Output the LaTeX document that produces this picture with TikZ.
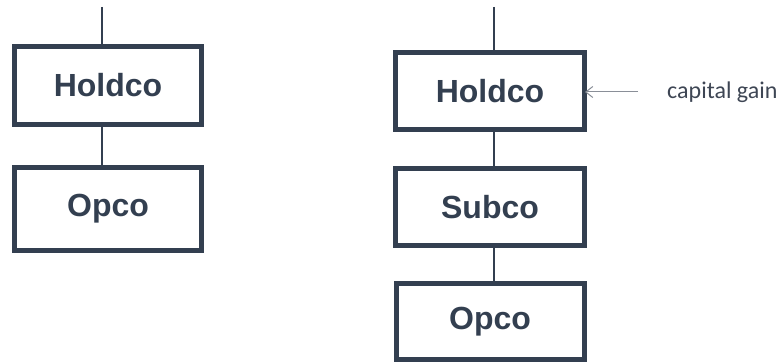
\documentclass[tikz,border=0pt]{standalone}
\usepackage{fontspec}
\newfontfamily\boxfont{Liberation Sans}
\newfontfamily\notefont{Carlito}
\usetikzlibrary{arrows.meta}
\definecolor{slate}{HTML}{333F50}
\definecolor{notegrey}{HTML}{3E4654}
\definecolor{arrowgrey}{HTML}{8A8F98}
\tikzset{
  entity/.style={draw=slate, line width=5pt, rectangle, inner sep=0pt,
    text=slate, font=\boxfont\bfseries\fontsize{32}{36}\selectfont},
  conn/.style={draw=slate, line width=2pt},
  gainarrow/.style={draw=arrowgrey, line width=1pt,
    -{Straight Barb[length=7pt,width=11pt]}},
  note/.style={text=notegrey, font=\notefont\fontsize{24}{28}\selectfont,
    anchor=west, inner sep=0pt}
}
\begin{document}
\begin{tikzpicture}[x=1pt,y=-1pt]
  \useasboundingbox (0,0) rectangle (783,363);

  % two-tier structure
  \node[entity, minimum width=187pt, minimum height=78pt] (hl) at (108,85.5) {Holdco};
  \node[entity, minimum width=187pt, minimum height=83pt] (ol) at (108,209) {Opco};
  \coordinate (tl) at (102,7);
  \draw[conn] (tl) -- (hl.north -| tl);
  \draw[conn] (hl.south -| tl) -- (ol.north -| tl);

  % three-tier structure
  \node[entity, minimum width=189pt, minimum height=77pt] (hr) at (490,91) {Holdco};
  \node[entity, minimum width=189pt, minimum height=77pt] (sr) at (490,207) {Subco};
  \node[entity, minimum width=188pt, minimum height=76pt] (or) at (490,321.5) {Opco};
  \coordinate (tr) at (494,7);
  \draw[conn] (tr) -- (hr.north -| tr);
  \draw[conn] (hr.south -| tr) -- (sr.north -| tr);
  \draw[conn] (sr.south -| tr) -- (or.north -| tr);

  % capital gain annotation
  \coordinate (gs) at (638,92);
  \node[note] (cg) at (667,92) {capital gain};
  \draw[gainarrow] (gs) -- ([xshift=-2pt]hr.east |- gs);
\end{tikzpicture}
\end{document}
